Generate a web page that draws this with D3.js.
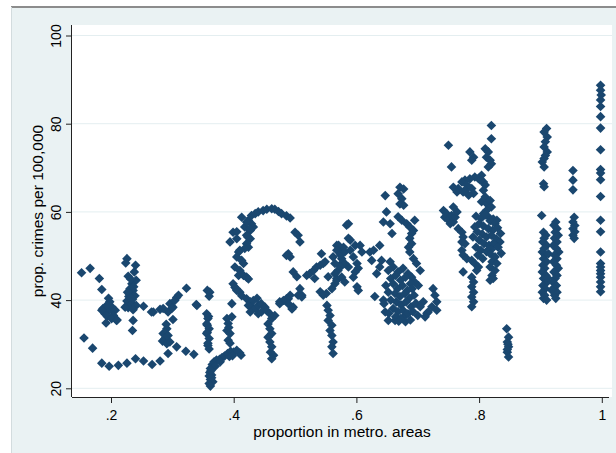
<!DOCTYPE html>
<html>
<head>
<meta charset="utf-8">
<script src="https://cdn.jsdelivr.net/npm/d3@7"></script>
<style>
  body { margin: 0; background: #fff; }
  text { font-family: "Liberation Sans", Arial, sans-serif; fill: #000; }
</style>
</head>
<body>
<script>
// points: [proportion in metro areas, crimes per 100,000]
const lowCurve = [[0.156,31.4],[0.170,29.1],[0.185,25.7],[0.197,25.0],[0.212,25.2],[0.226,25.7],[0.240,26.7],[0.253,26.2],[0.267,25.4],[0.280,26.2],[0.293,27.9],[0.307,29.4],[0.322,28.4],[0.335,27.7]]

const leftGroup = [[0.152,46.2],[0.166,47.2],[0.181,44.9],[0.185,42.4],[0.196,40.4],
  [0.187,38.1],[0.190,36.9],[0.192,34.8],[0.197,37.7],[0.201,38.5],[0.203,37.4],[0.207,37.7],[0.209,35.4],[0.194,36.3],[0.198,39.6],[0.193,38.8],[0.185,37.7],[0.204,36.5],[0.201,35.8],[0.210,35.5],
  [0.226,49.4],[0.224,48.4],[0.240,47.9],[0.238,46.4],[0.228,45.4],[0.241,44.5],[0.234,43.7],[0.231,42.6],[0.236,42.2],[0.230,41.4],[0.239,41.0],[0.232,40.5],[0.226,39.8],[0.234,39.3],[0.228,38.3],[0.241,38.8],[0.236,37.8],[0.223,38.4],[0.232,44.8],[0.237,43.0],[0.229,40.8],[0.235,40.2],[0.227,41.8],[0.236,35.4],[0.235,33.1],[0.253,38.6],[0.266,37.3],[0.280,37.9]]

const midLeft = [[0.296,39.2],[0.301,38.4],[0.307,40.6],[0.310,41.1],[0.323,42.7],[0.339,39.0],[0.301,35.6],[0.291,33.5],[0.285,32.4],[0.293,32.0],[0.288,31.3],[0.284,30.7],[0.291,30.1],[0.296,30.5],[0.290,34.5],[0.304,39.9],[0.299,38.1],[0.293,37.3],[0.285,38.1],[0.269,37.3],[0.340,38.8]]

const col36 = [[0.357,42.2],[0.360,40.9],[0.361,41.8],[0.356,36.9],[0.358,35.8],[0.356,34.6],[0.360,33.5],[0.357,32.7],[0.358,29.7],[0.360,28.9],[0.357,34.3],[0.356,32.4],[0.360,31.3],[0.358,30.2],[0.359,36.3]]

const bottomHook = [[0.360,21.1],[0.362,22.0],[0.360,22.8],[0.361,23.6],[0.362,24.5],[0.365,25.4],[0.368,26.0],[0.372,26.4],[0.377,26.6],[0.381,27.0],[0.385,27.3],[0.390,27.9],[0.395,28.4],[0.400,28.2],[0.405,28.6],[0.410,28.0],[0.378,26.0],[0.370,25.0],[0.364,23.0],[0.366,21.5],[0.364,22.4],[0.363,24.0],[0.393,27.2],[0.398,27.4],[0.412,27.5],[0.362,20.5]]

const col39 = [[0.389,35.8],[0.397,36.2],[0.391,34.7],[0.389,33.1],[0.394,32.4],[0.391,30.9],[0.394,30.2],[0.392,33.8]]

const arch = [[0.413,58.8],[0.399,55.4],[0.394,53.2],[0.405,53.9],[0.418,56.6],[0.424,58.1],[0.429,59.2],[0.435,59.6],[0.440,60.0],[0.448,60.3],[0.454,60.6],[0.462,60.7],[0.467,60.6],[0.473,60.1],[0.478,59.6],[0.486,59.1],[0.492,58.6],
  [0.421,54.7],[0.427,53.9],[0.421,52.8],[0.424,52.0],[0.418,51.7],[0.427,55.8],[0.432,56.6],[0.429,57.3],[0.405,55.5],[0.410,51.3],[0.421,57.7],[0.426,56.2],[0.423,54.3],
  [0.408,50.9],[0.405,49.8],[0.413,49.0],[0.416,48.3],[0.402,47.5],[0.410,46.7],[0.408,45.6],[0.416,45.6],[0.421,45.2],[0.424,44.8],[0.399,43.7],[0.402,42.9],[0.405,42.2],[0.410,41.8],[0.413,41.0],[0.397,39.2],[0.404,42.6]]

const archMid = [[0.421,40.3],[0.427,39.6],[0.432,39.9],[0.429,38.4],[0.435,38.1],[0.440,38.8],[0.445,39.2],[0.451,38.4],[0.440,36.9],[0.445,37.3],[0.454,37.6],[0.459,36.9],[0.462,35.8],[0.467,36.5],[0.456,34.6],[0.427,37.3],[0.424,38.8],[0.438,40.4],
  [0.459,33.5],[0.462,32.4],[0.456,31.6],[0.459,30.5],[0.462,29.4],[0.460,28.2],[0.465,27.5],[0.462,26.7]]

const archRight = [[0.500,55.4],[0.505,54.7],[0.508,53.2],[0.489,50.5],[0.492,49.8],[0.486,50.1],[0.497,46.4],[0.503,45.3],[0.508,42.6],[0.505,41.1],[0.511,41.1],[0.511,40.7],[0.475,39.6],[0.484,39.9],[0.489,40.3],[0.492,41.1],[0.497,38.4],[0.495,38.0],[0.486,40.3],[0.481,39.9],[0.489,39.2],[0.475,39.2]]

const mid55 = [[0.519,45.6],[0.524,46.0],[0.530,46.7],[0.535,47.5],[0.541,47.9],[0.546,48.3],[0.543,50.5],[0.549,48.7],[0.532,44.9],[0.554,45.3],[0.541,41.9],[0.546,41.1],[0.551,41.5],[0.560,42.6],[0.565,43.7],[0.568,44.9],[0.570,46.7],[0.573,47.9],[0.576,49.4],[0.579,50.9],[0.568,52.4],[0.573,51.7],[0.584,57.0],[0.587,54.0]]

const col56 = [[0.552,38.8],[0.554,37.7],[0.557,36.5],[0.554,35.4],[0.560,34.3],[0.557,33.1],[0.560,32.0],[0.562,30.5],[0.560,29.4],[0.562,27.9]]

const mid60 = [[0.587,57.3],[0.590,53.6],[0.598,52.4],[0.606,52.4],[0.609,50.9],[0.579,52.0],[0.571,52.4],[0.568,51.3],[0.574,50.2],[0.581,50.9],[0.590,51.3],[0.595,49.8],[0.601,48.3],[0.603,47.2],[0.598,46.4],[0.601,43.0],[0.603,42.2],[0.595,45.2],[0.587,47.5],[0.581,48.3],[0.574,47.5],[0.565,46.0],[0.568,44.5],[0.576,45.2],[0.581,44.1],[0.565,48.3],[0.562,49.8]]

const mid63 = [[0.622,50.9],[0.628,51.3],[0.625,49.0],[0.638,52.4],[0.641,49.0],[0.638,47.5],[0.655,48.7],[0.633,46.0],[0.630,40.8],[0.644,40.0],[0.647,37.3],[0.652,35.4],[0.663,35.4],[0.679,36.5]]

const upper67 = [[0.647,63.7],[0.671,65.6],[0.677,65.2],[0.668,64.1],[0.674,63.0],[0.671,61.8],[0.677,61.5],[0.649,60.0],[0.644,57.7],[0.655,57.3],[0.658,55.1],[0.668,58.9],[0.674,58.1],[0.682,57.3],[0.687,56.6],[0.695,58.1],[0.693,55.8],[0.690,55.1],[0.687,54.0],[0.690,52.8],[0.685,52.0],[0.687,50.9],[0.693,49.4],[0.698,48.3],[0.704,46.7]]

const blob67 = [[0.652,46.7],[0.660,47.5],[0.668,46.4],[0.676,47.2],[0.684,46.0],[0.690,45.2],[0.695,44.1],[0.656,44.9],[0.664,45.6],[0.672,44.5],[0.680,45.2],[0.688,43.7],[0.648,43.3],[0.660,43.7],[0.667,42.6],[0.675,43.3],[0.683,42.2],[0.691,42.6],[0.652,41.8],[0.663,41.5],[0.671,40.8],[0.679,41.5],[0.686,40.4],[0.694,41.1],[0.656,40.0],[0.665,39.6],[0.673,38.9],[0.681,39.6],[0.689,38.5],[0.660,38.1],[0.668,37.4],[0.676,37.7],[0.684,36.9],[0.692,37.4],[0.664,36.2],[0.672,35.8],[0.680,35.1],[0.688,35.5],[0.645,39.2],[0.653,37.0],[0.697,39.3],[0.700,36.5],[0.669,35.2]]

const right72 = [[0.701,43.3],[0.709,39.6],[0.704,38.5],[0.715,37.0],[0.725,42.6],[0.728,41.1],[0.731,39.6],[0.723,38.5],[0.717,37.3],[0.712,36.2],[0.731,37.7]]

const col75 = [[0.750,75.1],[0.755,70.2],[0.785,73.6],[0.791,72.4],[0.788,71.7],
  [0.742,60.3],[0.747,59.6],[0.744,58.8],[0.750,58.1],[0.755,59.2],[0.753,57.3],[0.758,57.7],[0.761,58.8],[0.764,60.0],[0.758,61.1],
  [0.766,56.2],[0.772,55.4],[0.774,54.3],[0.772,53.2],[0.777,52.8],[0.772,51.3],[0.774,50.2],[0.780,49.4],[0.788,49.0],[0.793,48.3],[0.799,47.5],[0.796,46.7],[0.774,46.4],
  [0.788,45.2],[0.791,44.1],[0.788,43.0],[0.791,41.8],[0.788,40.7],[0.791,39.6],[0.788,38.5],
  [0.804,68.3],[0.799,67.6],[0.807,66.8],[0.810,66.1],[0.802,67.2],[0.793,67.9],[0.785,67.5],[0.777,67.2],[0.772,66.8],[0.780,66.1],[0.788,65.3],[0.791,64.2],[0.783,63.8],[0.777,64.9],[0.766,65.3],[0.758,65.6],[0.764,64.5],[0.774,64.5]]

const col82 = [[0.820,79.6],[0.820,76.6],[0.810,74.3],[0.815,73.6],[0.812,72.4],[0.818,71.7],[0.820,70.9],[0.815,70.2],
  [0.807,64.9],[0.810,63.4],[0.804,62.3],[0.812,61.9],[0.818,62.6],[0.820,61.1],[0.812,60.3],[0.807,59.6],[0.815,58.9],[0.823,58.4],[0.829,58.1],
  [0.795,59.0],[0.803,58.5],[0.810,59.3],[0.818,58.0],[0.826,57.3],[0.800,57.3],[0.807,56.8],[0.815,56.2],[0.822,55.8],[0.830,56.4],[0.835,55.1],[0.797,55.5],[0.805,55.0],[0.812,54.3],[0.820,54.7],[0.828,53.9],[0.834,53.2],[0.800,53.6],[0.808,52.8],[0.816,52.4],[0.823,52.8],[0.831,52.0],[0.795,52.0],[0.803,51.3],[0.812,51.0],[0.820,51.5],[0.836,50.6],[0.798,50.2],[0.806,49.4],[0.790,54.3],[0.793,56.6],
  [0.818,50.5],[0.826,49.8],[0.821,48.7],[0.829,48.3],[0.818,47.5],[0.826,46.7],[0.821,45.6],[0.818,44.5],[0.823,44.9]]

const col845 = [[0.845,33.5],[0.848,31.6],[0.846,30.5],[0.848,29.4],[0.846,28.2],[0.848,27.1],[0.847,30.0],[0.846,28.8]]

const col91 = [[0.910,78.9],[0.906,78.1],[0.911,77.0],[0.908,75.9],[0.906,74.7],[0.911,73.6],[0.908,72.8],[0.906,72.1],[0.903,71.3],[0.906,70.2],[0.905,66.4],[0.906,65.7],[0.902,59.2],
  [0.905,55.4],[0.909,54.7],[0.906,54.0],[0.904,53.2],[0.910,52.4],[0.906,51.7],[0.903,50.9],[0.908,50.2],[0.905,49.4],[0.910,48.7],[0.904,47.9],[0.907,47.2],[0.903,46.4],[0.909,45.6],[0.905,44.9],[0.911,44.1],[0.904,43.3],[0.908,42.6],[0.903,41.8],[0.907,41.1],[0.905,40.4],[0.910,40.0],[0.912,45.0],[0.913,50.5]]

const col92 = [[0.925,57.7],[0.922,57.0],[0.927,56.2],[0.924,55.4],[0.929,54.7],[0.923,54.0],[0.927,53.2],[0.921,52.4],[0.926,51.7],[0.930,50.9],[0.923,50.2],[0.927,49.4],[0.921,48.7],[0.926,47.9],[0.929,47.2],[0.922,46.4],[0.927,45.6],[0.924,44.9],[0.920,44.1],[0.926,43.3],[0.922,42.6],[0.927,41.8],[0.923,41.1],[0.925,40.4],[0.918,42.3]]

const col95 = [[0.953,69.4],[0.953,67.2],[0.953,65.0],[0.955,58.8],[0.953,57.7],[0.956,56.9],[0.953,56.2],[0.956,55.5],[0.953,54.7],[0.955,54.0]]

const col100 = [[0.998,88.7],[0.998,87.6],[0.999,86.5],[0.998,85.4],[0.998,83.9],[0.998,81.6],[0.998,79.0],[0.998,74.1],[0.998,69.6],[0.998,68.8],[0.998,67.3],[0.998,63.5],[0.998,58.1],[0.998,55.5],[0.998,50.9],[0.998,48.3],[0.998,47.5],[0.998,46.7],[0.998,46.0],[0.998,45.2],[0.998,44.1],[0.998,43.0],[0.998,41.9]]

const xTicks = [0.2, 0.4, 0.6, 0.8, 1]
const xTickLabels = [".2", ".4", ".6", ".8", "1"]
const yTicks = [20, 40, 60, 80, 100]

const points = [].concat(lowCurve, leftGroup, midLeft, col36, bottomHook, col39, arch, archMid, archRight,
  mid55, col56, mid60, mid63, upper67, blob67, right72, col75, col82, col845, col91, col92, col95, col100)

var w = 616
var h = 453

var svg = d3.select("body").append("svg")
    .attr("width", w)
    .attr("height", h)

// outer graph region
svg.append("rect")
    .attr("x", 11).attr("y", 7)
    .attr("width", w - 11).attr("height", h - 7)
    .attr("fill", "#eaf2f3")
svg.append("line")
    .attr("x1", 11).attr("x2", w).attr("y1", 7).attr("y2", 7)
    .attr("stroke", "#8c8c8c").attr("stroke-width", 2)
svg.append("line")
    .attr("x1", 11.5).attr("x2", 11.5).attr("y1", 7).attr("y2", h)
    .attr("stroke", "#d3dcde")

// plot region (names avoid window.top)
var plotL = 72, plotR = 612, plotT = 25, plotB = 397
svg.append("rect")
    .attr("x", plotL).attr("y", plotT)
    .attr("width", plotR - plotL).attr("height", plotB - plotT)
    .attr("fill", "#fff")

const xScale = d3.scaleLinear().domain([0.2, 1]).range([111, 601.8])
const yScale = d3.scaleLinear().domain([20, 100]).range([388.3, 35.5])

// grid lines
svg.append("g").selectAll("line")
    .data(yTicks)
    .enter().append("line")
    .attr("x1", plotL).attr("x2", plotR)
    .attr("y1", d => yScale(d)).attr("y2", d => yScale(d))
    .attr("stroke", "#e4eef0")

// markers
svg.append("g").selectAll("path")
    .data(points)
    .enter().append("path")
    .attr("d", "M0,-4.8L4.8,0L0,4.8L-4.8,0Z")
    .attr("transform", d => "translate(" + xScale(d[0]) + "," + yScale(d[1]) + ")")
    .attr("fill", "#1a476f")

// x axis
const xAxis = d3.axisBottom(xScale).tickValues(xTicks)
    .tickFormat((d, i) => xTickLabels[i]).tickSize(6).tickSizeOuter(0)
var gx = svg.append("g")
    .attr("transform", "translate(0," + plotB + ")")
    .call(xAxis)
gx.select(".domain").attr("d", "M" + plotL + ",0.5H" + (plotR - 3))
gx.selectAll("line").attr("stroke", "#222")
gx.selectAll(".domain").attr("stroke", "#222")
gx.selectAll("text")
    .attr("y", 23).attr("dy", 0)
    .style("font-size", "14px")

// y axis
const yAxis = d3.axisLeft(yScale).tickValues(yTicks).tickSize(6).tickSizeOuter(0)
var gy = svg.append("g")
    .attr("transform", "translate(" + plotL + ",0)")
    .call(yAxis)
gy.select(".domain").attr("d", "M-0.5," + plotT + "V" + plotB)
gy.selectAll("line").attr("stroke", "#222")
gy.selectAll(".domain").attr("stroke", "#222")
gy.selectAll("text")
    .attr("transform", "rotate(-90)")
    .attr("x", 0).attr("y", -11).attr("dy", 0)
    .attr("text-anchor", "middle")
    .style("font-size", "14px")

// axis titles
svg.append("text")
    .attr("x", (plotL + plotR) / 2).attr("y", 437)
    .attr("text-anchor", "middle")
    .style("font-size", "15.5px")
    .text("proportion in metro. areas")

svg.append("text")
    .attr("transform", "translate(43," + (plotT + plotB) / 2 + ") rotate(-90)")
    .attr("text-anchor", "middle")
    .style("font-size", "15.5px")
    .text("prop. crimes per 100,000")
</script>
</body>
</html>
